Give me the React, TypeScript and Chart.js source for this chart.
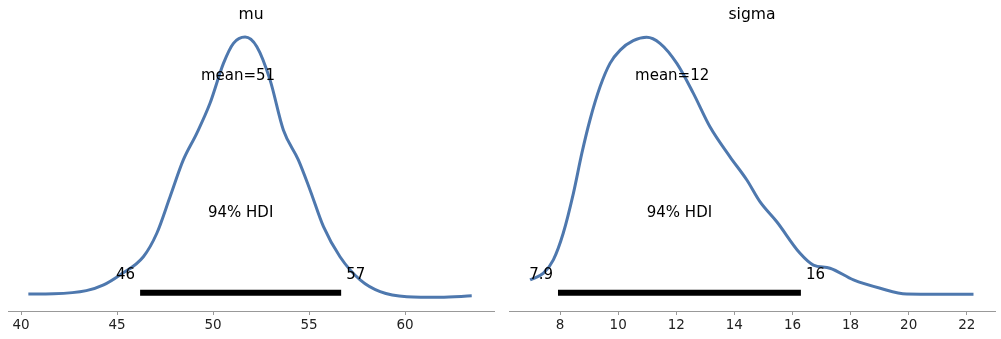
import React, { useEffect, useRef } from "react";
import { Chart, registerables } from "chart.js";

Chart.register(...registerables);

// ---- mu panel data ----
const muX = [40.38, 41.7, 43.4, 44.3, 45.15, 46.37, 47.07, 47.76, 48.45, 49.15, 49.84, 50.54, 51.06, 51.67, 52.28, 52.97, 53.66, 54.44, 55.05, 55.75, 56.61, 57.66, 58.7, 60.09, 61.82, 63.47];
const muDensity = [0.015, 0.016, 0.028, 0.05, 0.088, 0.158, 0.248, 0.388, 0.529, 0.631, 0.746, 0.899, 0.976, 1.0, 0.963, 0.835, 0.644, 0.529, 0.414, 0.273, 0.158, 0.069, 0.024, 0.005, 0.003, 0.008];
const muHdi = [46.2, 56.67];
const muHdiLabels = ["46", "57"];
const muMean = 51.3;
const muMeanLabel = "mean=51";
const muTicks = [40, 45, 50, 55, 60];

// ---- sigma panel data ----
const sigmaX = [6.97, 7.43, 7.77, 8.11, 8.46, 8.75, 9.03, 9.38, 9.72, 10.07, 10.52, 10.98, 11.44, 12.02, 12.59, 13.16, 13.85, 14.43, 14.88, 15.46, 16.26, 16.72, 17.29, 18.1, 19.02, 19.93, 21.08, 22.23];
const sigmaDensity = [0.069, 0.095, 0.146, 0.248, 0.401, 0.554, 0.682, 0.81, 0.899, 0.95, 0.986, 0.999, 0.976, 0.899, 0.784, 0.656, 0.541, 0.452, 0.369, 0.292, 0.171, 0.126, 0.114, 0.069, 0.037, 0.015, 0.014, 0.014];
const sigmaHdi = [7.93, 16.29];
const sigmaHdiLabels = ["7.9", "16"];
const sigmaMean = 11.86;
const sigmaMeanLabel = "mean=12";
const sigmaTicks = [8, 10, 12, 14, 16, 18, 20, 22];

const LINE_COLOR = "#4e78ae";
const FONT = "'DejaVu Sans', 'Liberation Sans', sans-serif";

type PanelProps = {
  title: string;
  xs: number[];
  ys: number[];
  hdi: number[];
  hdiLabels: string[];
  mean: number;
  meanLabel: string;
  ticks: number[];
  xMin: number;
  xMax: number;
  left: number;
  width: number;
  padLeft: number;
  padRight: number;
};

function Panel(p: PanelProps) {
  const ref = useRef<HTMLCanvasElement | null>(null);
  useEffect(() => {
    if (!ref.current) return;
    const annot = {
      id: "annot",
      afterDatasetsDraw(chart: any) {
        const ctx = chart.ctx;
        const xs = chart.scales.x;
        const ys = chart.scales.y;
        const ca = chart.chartArea;
        ctx.save();
        ctx.fillStyle = "#000";
        // title
        ctx.font = `15.6px ${FONT}`;
        ctx.textAlign = "center";
        ctx.textBaseline = "middle";
        ctx.fillText(p.title, (ca.left + ca.right) / 2, 15);
        ctx.font = `15px ${FONT}`;
        // mean
        ctx.fillText(p.meanLabel, xs.getPixelForValue(p.mean), ys.getPixelForValue(0.854) + 1);
        // HDI label
        ctx.fillText("94% HDI", xs.getPixelForValue((p.hdi[0] + p.hdi[1]) / 2), ys.getPixelForValue(0.33) + 1);
        // HDI endpoint labels
        const ly = ys.getPixelForValue(0.092) + 1;
        ctx.textAlign = "right";
        ctx.fillText(p.hdiLabels[0], xs.getPixelForValue(p.hdi[0]) - 5, ly);
        ctx.textAlign = "left";
        ctx.fillText(p.hdiLabels[1], xs.getPixelForValue(p.hdi[1]) + 5, ly);
        ctx.restore();
      },
    };
    const chart = new Chart(ref.current, {
      type: "line",
      data: {
        datasets: [
          {
            data: p.xs.map((x, i) => ({ x, y: p.ys[i] })),
            borderColor: LINE_COLOR,
            borderWidth: 3,
            pointRadius: 0,
            cubicInterpolationMode: "monotone",
            fill: false,
          },
          {
            data: p.hdi.map((x) => ({ x, y: 0.02 })),
            borderColor: "#000",
            borderWidth: 6,
            borderCapStyle: "butt",
            pointRadius: 0,
            fill: false,
          },
        ],
      },
      plugins: [annot],
      options: {
        animation: false,
        responsive: false,
        maintainAspectRatio: false,
        layout: { padding: { left: p.padLeft, right: p.padRight, top: 24, bottom: 0 } },
        plugins: { legend: { display: false }, tooltip: { enabled: false }, title: { display: false } },
        scales: {
          x: {
            type: "linear",
            min: p.xMin,
            max: p.xMax,
            afterBuildTicks: (scale: any) => {
              scale.ticks = p.ticks.map((v) => ({ value: v }));
            },
            afterFit: (scale: any) => {
              scale.height = 28;
            },
            grid: { display: true, drawOnChartArea: false, drawTicks: true, tickLength: 4, color: "#999", tickColor: "#999" },
            border: { display: true, color: "#999", width: 1 },
            ticks: {
              color: "#222",
              font: { family: FONT, size: 13.5 },
              padding: 2,
              maxRotation: 0,
              autoSkip: false,
            },
          },
          y: { type: "linear", display: false, min: -0.05, max: 1.05 },
        },
      },
    } as any);
    return () => chart.destroy();
  }, []);
  return (
    <canvas
      ref={ref}
      width={p.width}
      height={339}
      style={{ position: "absolute", left: p.left, top: 0, width: p.width, height: 339 }}
    />
  );
}

export default function App() {
  return (
    <div style={{ position: "absolute", left: 0, top: 0, width: 1001, height: 339, background: "#fff" }}>
      <Panel
        title="mu"
        xs={muX}
        ys={muDensity}
        hdi={muHdi}
        hdiLabels={muHdiLabels}
        mean={muMean}
        meanLabel={muMeanLabel}
        ticks={muTicks}
        xMin={39.32}
        xMax={64.63}
        left={0}
        width={500}
        padLeft={8}
        padRight={6}
      />
      <Panel
        title="sigma"
        xs={sigmaX}
        ys={sigmaDensity}
        hdi={sigmaHdi}
        hdiLabels={sigmaHdiLabels}
        mean={sigmaMean}
        meanLabel={sigmaMeanLabel}
        ticks={sigmaTicks}
        xMin={6.244}
        xMax={22.97}
        left={500}
        width={501}
        padLeft={9}
        padRight={6}
      />
    </div>
  );
}
